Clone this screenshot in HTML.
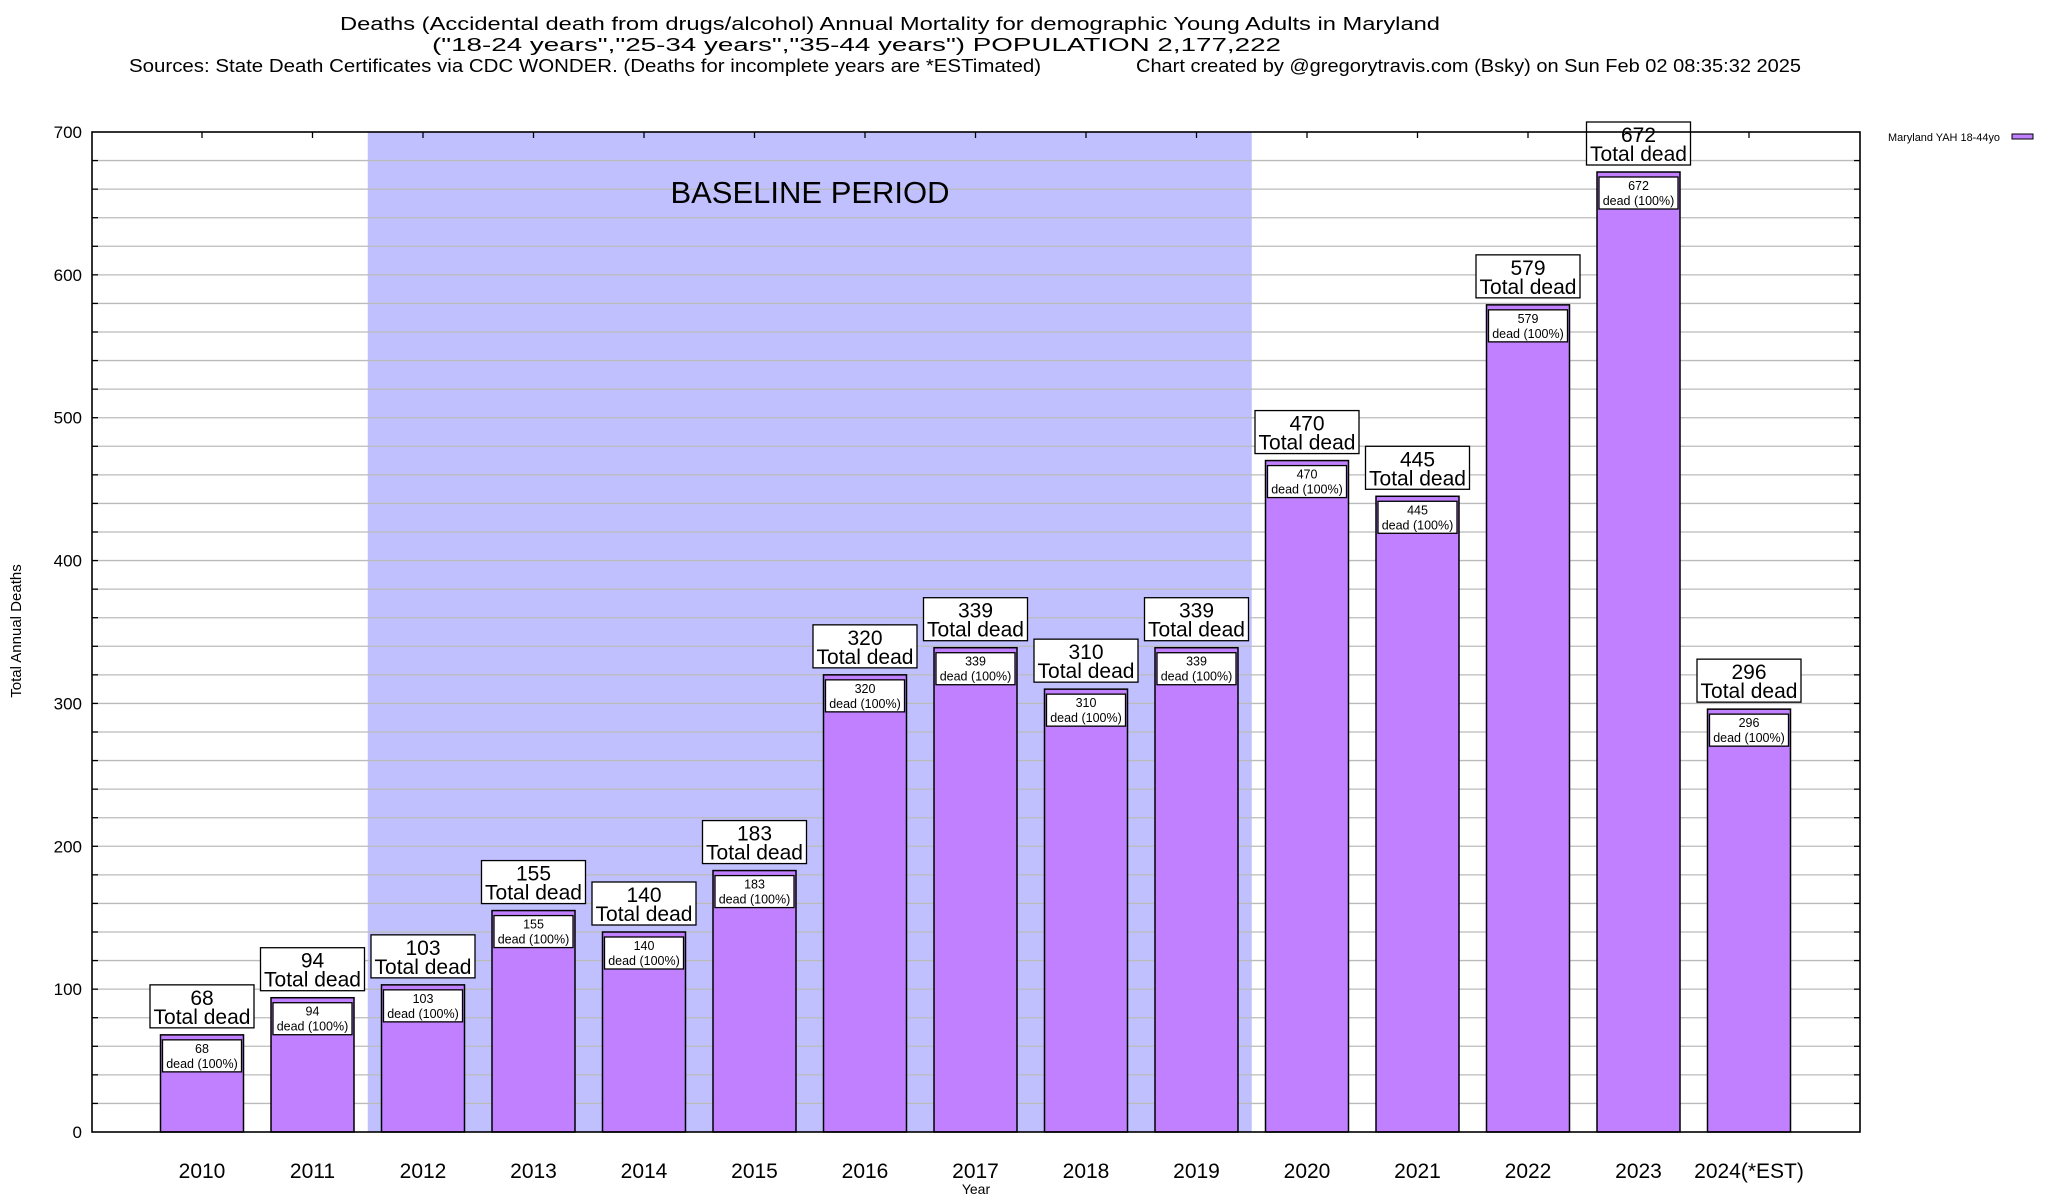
<!DOCTYPE html>
<html><head><meta charset="utf-8"><style>
html,body{margin:0;padding:0;background:#fff;}
svg{display:block;font-family:"Liberation Sans",Arial,sans-serif;}
</style></head><body>
<svg id="chart" width="2048" height="1200" viewBox="0 0 2048 1200" xmlns="http://www.w3.org/2000/svg">
<g font-size="18" fill="#000">
<text x="340" y="30" textLength="1100" lengthAdjust="spacingAndGlyphs">Deaths (Accidental death from drugs/alcohol) Annual Mortality for demographic Young Adults in Maryland</text>
<text x="432" y="51" textLength="849" lengthAdjust="spacingAndGlyphs">("18-24 years","25-34 years","35-44 years") POPULATION 2,177,222</text>
<text x="129" y="72" textLength="912" lengthAdjust="spacingAndGlyphs">Sources: State Death Certificates via CDC WONDER. (Deaths for incomplete years are *ESTimated)</text>
<text x="1136" y="72" textLength="665" lengthAdjust="spacingAndGlyphs">Chart created by @gregorytravis.com (Bsky) on Sun Feb 02 08:35:32 2025</text>
</g>
<g id="grid"></g>
<g id="bars"></g>
<g id="axes"></g>
<text transform="translate(21,631) rotate(-90)" text-anchor="middle" font-size="15">Total Annual Deaths</text>
<text x="976" y="1194" text-anchor="middle" font-size="14">Year</text>
<g>
<text x="1888" y="141" font-size="11" textLength="112" lengthAdjust="spacingAndGlyphs">Maryland YAH 18-44yo</text>
<rect x="2012" y="134" width="21" height="5" fill="#c080ff" stroke="#000" stroke-width="1"/>
</g>
</svg>
<script>
const categories = ["2010","2011","2012","2013","2014","2015","2016","2017","2018","2019","2020","2021","2022","2023","2024(*EST)"];
const deaths = [68,94,103,155,140,183,320,339,310,339,470,445,579,672,296];
const yTicks = [0,100,200,300,400,500,600,700];
const baselineStart = 1.5, baselineEnd = 9.5;

const NS = "http://www.w3.org/2000/svg";
const L=92,R=1860,T=132,B=1132;
const xScale = i => 202 + 110.5*i;
const yScale = v => B - (v/700)*(B-T);
function mk(tag, attrs, parent, txt){
  const e=document.createElementNS(NS,tag);
  for(const k in attrs) e.setAttribute(k,attrs[k]);
  if(txt!==undefined) e.textContent=txt;
  parent.appendChild(e); return e;
}
const grid=document.getElementById('grid'), bars=document.getElementById('bars'), axes=document.getElementById('axes');
const sh=mk('rect',{x:xScale(baselineStart),y:T,width:xScale(baselineEnd)-xScale(baselineStart),height:B-T,fill:'#c0c0ff'},grid);


for(let v=20; v<700; v+=20){
  const y=yScale(v);
  const g=mk('line',{x1:L,x2:R,y1:y,y2:y,stroke:'#bbb','stroke-width':1.3},grid);
  
  
  mk('line',{x1:L,x2:L+6,y1:y,y2:y,stroke:'#000','stroke-width':1.3},axes);
  mk('line',{x1:R-6,x2:R,y1:y,y2:y,stroke:'#000','stroke-width':1.3},axes);
}
const bt=mk('text',{x:810,y:203,'text-anchor':'middle','font-size':31},grid,'BASELINE PERIOD');


yTicks.forEach(v=>{
  const y=yScale(v);
  const t=mk('text',{x:L-10,y:y+6,'text-anchor':'end','font-size':17},axes,String(v));
  
  
});
categories.forEach((c,i)=>{
  const v=deaths[i], cx=xScale(i), w=83, top=yScale(v);
  const b=mk('rect',{x:cx-w/2,y:top,width:w,height:B-top,fill:'#c080ff',stroke:'#000','stroke-width':1.5},bars);
  
  
  const ib=mk('rect',{x:cx-w/2+2,y:top+5,width:w-4,height:32,fill:'#fff',stroke:'#000','stroke-width':1.3},bars);
  
  
  mk('text',{x:cx,y:top+18,'text-anchor':'middle','font-size':12.5},bars,String(v));
  mk('text',{x:cx,y:top+33,'text-anchor':'middle','font-size':12.5},bars,'dead (100%)');
  const ob=mk('rect',{x:cx-52,y:top-50,width:104,height:43,fill:'#fff',stroke:'#000','stroke-width':1.3},bars);
  
  
  mk('text',{x:cx,y:top-30,'text-anchor':'middle','font-size':21},bars,String(v));
  mk('text',{x:cx,y:top-11,'text-anchor':'middle','font-size':21},bars,'Total dead');
  const xl=mk('text',{x:cx,y:1178,'text-anchor':'middle','font-size':21},axes,c);
  
  
  mk('line',{x1:cx,x2:cx,y1:T,y2:T+6,stroke:'#000','stroke-width':1.3},axes);
});
const fr=mk('rect',{x:L,y:T,width:R-L,height:B-T,fill:'none',stroke:'#000','stroke-width':1.6},axes);


</script>
</body></html>
